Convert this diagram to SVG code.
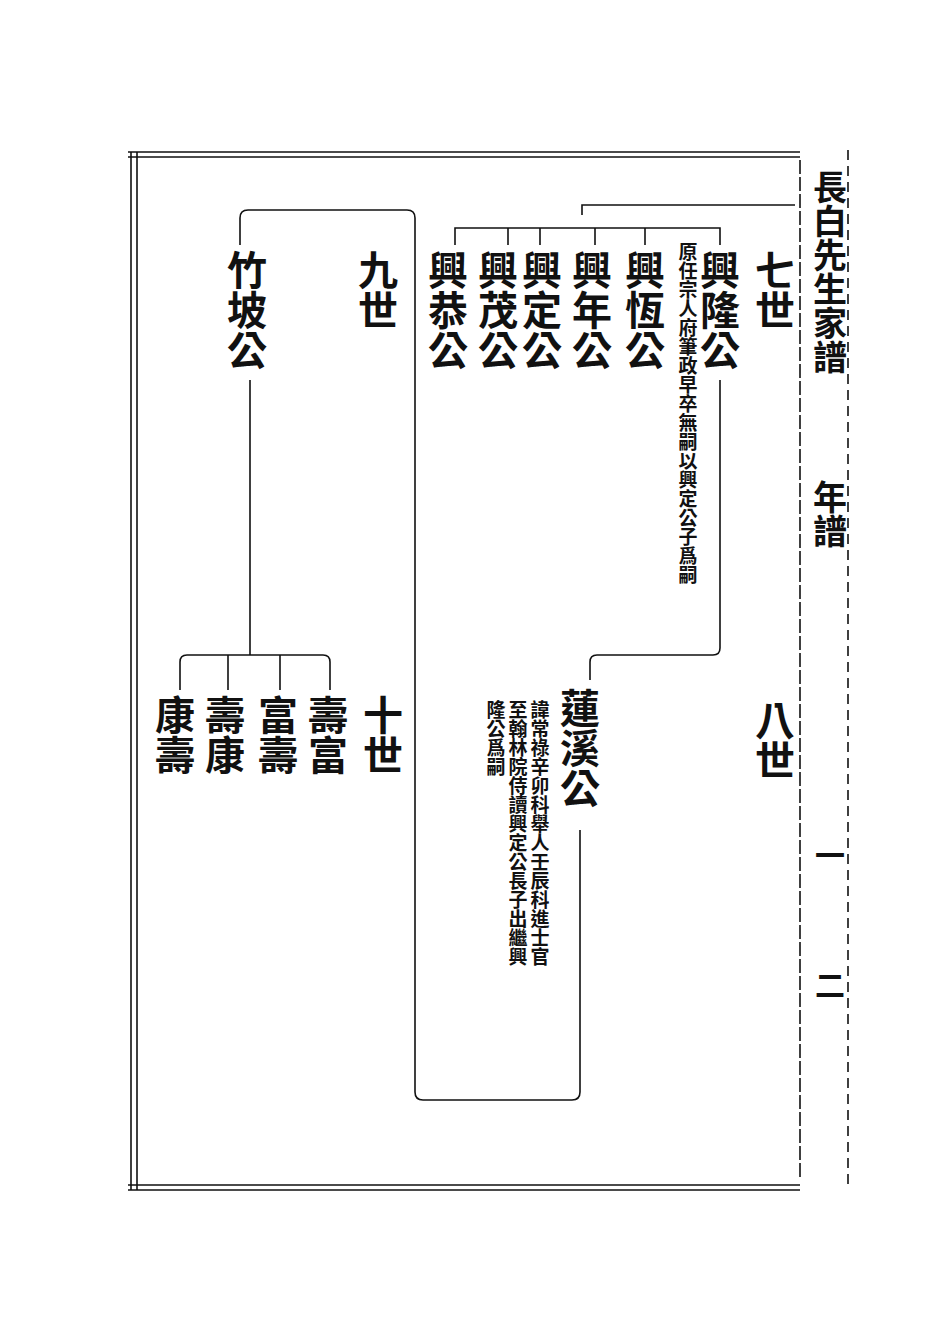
<svg xmlns="http://www.w3.org/2000/svg" width="950" height="1330" viewBox="0 0 950 1330">
<style>
.v{writing-mode:vertical-rl;font-family:"Noto Sans CJK TC","Noto Sans CJK SC",sans-serif;fill:#111;font-weight:bold}
.b{font-size:40px}
.s{font-size:19px}
.ln{fill:none;stroke:#111;stroke-width:1.6}
</style>
<rect width="950" height="1330" fill="#fff"/>
<g id="frame">
<path d="M128 152 H800 M128 157 H800" class="ln" stroke-width="2.5"/>
<path d="M128 1185 H800 M128 1190 H800" class="ln" stroke-width="2.5"/>
<path d="M131 152 V1190 M137 152 V1190" class="ln" stroke-width="2.5"/>
<path d="M800 160 V1180" class="ln" stroke-dasharray="14 3"/>
<path d="M848 150 V1190" class="ln" stroke-dasharray="10 6" stroke-width="1.2"/>
</g>
<g id="header"><text class="v b" x="830" y="170" font-size="34" style="font-size:34px">長白先生家譜</text><text class="v b" x="830" y="480" style="font-size:34px">年譜</text><text class="v b" x="830" y="840" style="font-size:30px">一</text><text class="v b" x="830" y="970" style="font-size:30px">二</text></g>
<g id="connectors">
<path class="ln" d="M795 205 H582 V215"/>
<path class="ln" d="M455 245 V228 H720 V245 M508 228 V245 M540 228 V245 M595 228 V245 M645 228 V245"/>
<path class="ln" d="M720 380 V648 Q720 655 713 655 H597 Q590 655 590 662 V680"/>
<path class="ln" d="M580 830 V1092 Q580 1100 572 1100 H423 Q415 1100 415 1092 V218 Q415 210 407 210 H248 Q240 210 240 218 V245"/>
<path class="ln" d="M250 380 V655 M180 690 V662 Q180 655 187 655 H323 Q330 655 330 662 V690 M228 655 V690 M280 655 V690"/>
</g>
<g id="gen7"><text class="v b" x="775" y="250">七世</text></g>
<g id="n-xinglong"><text class="v b" x="720" y="250">興隆公</text><text class="v s" x="688" y="242">原任宗人府筆政早卒無嗣以興定公子爲嗣</text></g>
<g id="n-xingheng"><text class="v b" x="645" y="250">興恆公</text></g>
<g id="n-xingnian"><text class="v b" x="592" y="250">興年公</text></g>
<g id="n-xingding"><text class="v b" x="542" y="250">興定公</text></g>
<g id="n-xingmao"><text class="v b" x="498" y="250">興茂公</text></g>
<g id="n-xinggong"><text class="v b" x="448" y="250">興恭公</text></g>
<g id="gen8"><text class="v b" x="775" y="700">八世</text></g>
<g id="n-lianxi"><text class="v b" x="580" y="688">蓮溪公</text><text class="v s" x="540" y="700">諱常祿辛卯科舉人壬辰科進士官</text><text class="v s" x="518" y="700">至翰林院侍讀興定公長子出繼興</text><text class="v s" x="496" y="700">隆公爲嗣</text></g>
<g id="gen9"><text class="v b" x="378" y="250">九世</text></g>
<g id="n-zhupo"><text class="v b" x="247" y="250">竹坡公</text></g>
<g id="gen10"><text class="v b" x="383" y="695">十世</text></g>
<g id="n-shoufu"><text class="v b" x="328" y="695">壽富</text></g>
<g id="n-fushou"><text class="v b" x="278" y="695">富壽</text></g>
<g id="n-shoukang"><text class="v b" x="225" y="695">壽康</text></g>
<g id="n-kangshou"><text class="v b" x="175" y="695">康壽</text></g>
</svg>
